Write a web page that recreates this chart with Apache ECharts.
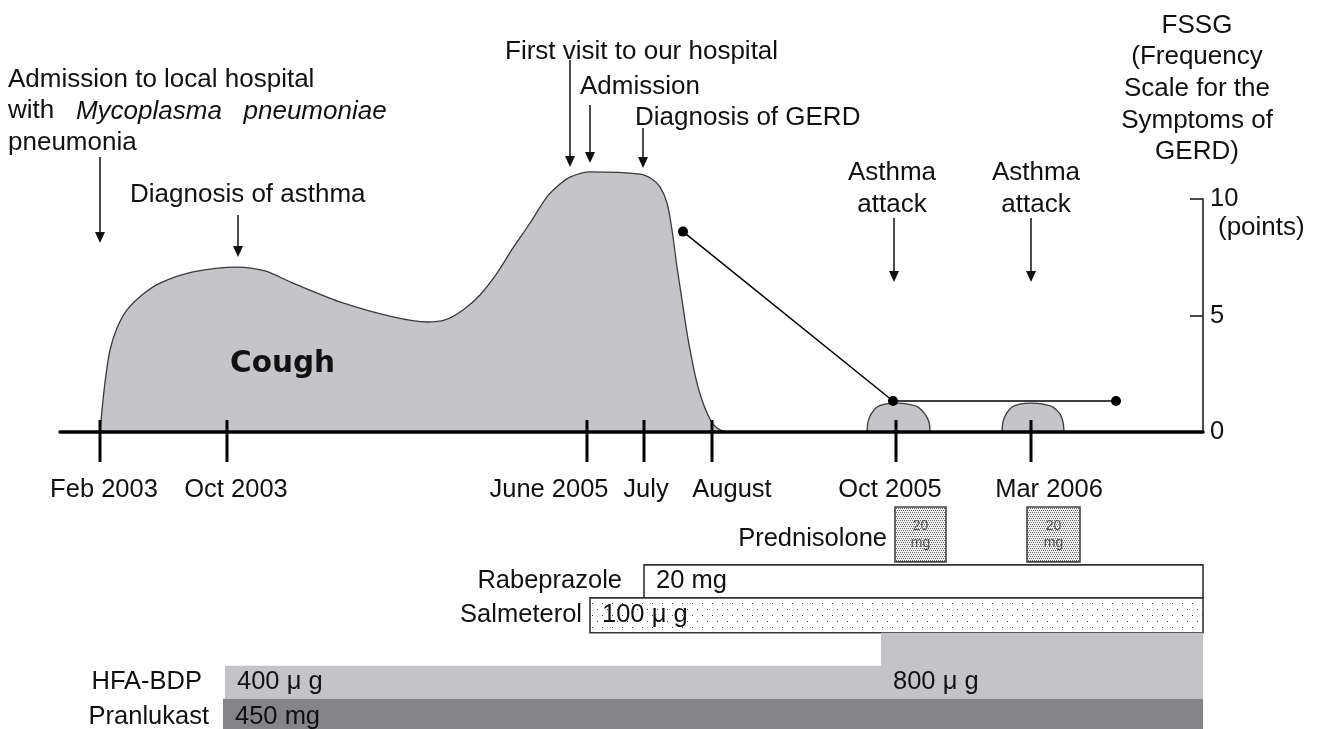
<!DOCTYPE html>
<html><head><meta charset="utf-8">
<script src="https://cdn.jsdelivr.net/npm/echarts@6/dist/echarts.min.js"></script>
<style>html,body{margin:0;padding:0;background:#fff}#c{width:1320px;height:729px}</style>
</head><body><div id="c"></div>
<script>
// ================= DATA =================
// x values are positions on the schematic (non-linear) timeline
const timelineTicks = ['Feb 2003', 'Oct 2003', 'June 2005', 'July', 'August', 'Oct 2005', 'Mar 2006'];
const timelinePos = [4.0, 16.7, 52.7, 58.4, 65.2, 83.6, 97.1];
const fssgTickValues = [0, 5, 10];

// cough intensity (schematic, drawn on the same vertical scale)
const coughMain = [
  [4.0, 0], [4.3, 1.37], [4.6, 2.45], [5.0, 3.52], [5.7, 4.46], [6.7, 5.24], [8.2, 5.88],
  [10.0, 6.39], [13.3, 6.87], [17.7, 7.08], [20.5, 6.91], [23.3, 6.39], [28.3, 5.54],
  [33.3, 4.94], [36.7, 4.72], [38.5, 4.81], [40.3, 5.24], [42.0, 5.88], [43.7, 6.82],
  [45.3, 7.90], [47.0, 8.97], [48.7, 10.09], [50.0, 10.64], [51.0, 10.94], [53.0, 11.16],
  [58.0, 11.07], [59.2, 10.86], [60.0, 10.52], [60.7, 9.83], [61.2, 8.67], [61.7, 7.08],
  [62.2, 5.67], [62.7, 4.25], [63.2, 3.09], [63.7, 2.10], [64.2, 1.37], [64.7, 0.82],
  [65.3, 0.34], [66.0, 0.09], [66.7, 0]
];
const coughAttackOct2005 = [
  [80.7, 0], [80.8, 0.43], [81.1, 0.77], [81.7, 1.07], [82.5, 1.20], [83.6, 1.24],
  [84.8, 1.20], [85.8, 1.07], [86.5, 0.77], [86.9, 0.43], [87.0, 0]
];
const coughAttackMar2006 = [
  [94.2, 0], [94.3, 0.43], [94.6, 0.77], [95.2, 1.07], [96.0, 1.20], [97.1, 1.24],
  [98.3, 1.20], [99.3, 1.07], [100.0, 0.77], [100.3, 0.43], [100.4, 0]
];

// FSSG score (points)
const fssgScores = [[62.3, 8.6], [83.3, 1.33], [105.6, 1.33]];

// events (arrows)
const eventLabels = [
  'Admission to local hospital\nwith   {i|Mycoplasma}   {i|pneumoniae}\npneumonia',
  'Diagnosis of asthma',
  'First visit to our hospital',
  'Admission',
  'Diagnosis of GERD',
  'Asthma\nattack',
  'Asthma\nattack'
];
const eventPos = [4.0, 17.8, 51.0, 53.0, 58.3, 83.4, 97.1];
const eventArrowFrom = [11.8, 9.31, 15.97, 14.03, 13.05, 9.18, 9.18];
const eventArrowTo = [8.11, 7.51, 11.37, 11.55, 11.33, 6.44, 6.44];

// treatments: [start, end, dose]
const drugNames = ['Prednisolone', 'Rabeprazole', 'Salmeterol', 'HFA-BDP', 'Pranlukast'];
const doseUnits = ['mg', 'mg', 'μ g', 'μ g', 'mg'];
const prednisolone = [[83.5, 88.6, 20], [96.7, 102.0, 20]];
const rabeprazole = [[58.4, 114.3, 20]];
const salmeterol = [[53.0, 114.3, 100]];
const hfaBdp = [[16.5, 82.1, 400], [82.1, 114.3, 800]];
const pranlukast = [[16.3, 114.3, 450]];
const drugCourses = [prednisolone, rabeprazole, salmeterol, hfaBdp, pranlukast];

// ================= STYLE / LAYOUT =================
const FONT = "'Liberation Sans', Arial, Helvetica, sans-serif";
const INK = '#111';

function makePattern(w, h, bg, dots, color) {
  const c = document.createElement('canvas');
  c.width = w; c.height = h;
  const g = c.getContext('2d');
  g.fillStyle = bg; g.fillRect(0, 0, w, h);
  g.fillStyle = color;
  dots.forEach(d => g.fillRect(d[0], d[1], 1, 1));
  return { image: c, repeat: 'repeat' };
}
const salPattern = makePattern(10, 12, '#ffffff', [[2, 3], [7, 9]], '#444');
const predPattern = makePattern(4, 4, '#f2f2f2', [[0, 0], [2, 0], [1, 2], [3, 2]], '#666');

const tickLabelNudge = [4, 9, -38, 2, 20, -6, 18];
const eventLabelLayout = [
  { dx: -92, dy: -93, align: 'left', va: 'top' },
  { dx: -108, dy: -20, align: 'left', va: 'middle' },
  { dx: -65, dy: -8, align: 'left', va: 'middle' },
  { dx: -10, dy: -18, align: 'left', va: 'middle' },
  { dx: -8, dy: -10, align: 'left', va: 'middle' },
  { dx: -2, dy: -61, align: 'center', va: 'top' },
  { dx: 5, dy: -61, align: 'center', va: 'top' }
];
const drugLayout = [
  { band: [0.24, 1.89], fill: predPattern, stroke: '#444', nameGap: 8, small: true },
  { band: [1.98, 2.97], fill: '#ffffff', stroke: '#333', nameGap: 22 },
  { band: [2.97, 4.02], fill: salPattern, stroke: '#333', nameGap: 8 },
  { base: 6.0, perDose: 404, fill: '#c4c3c8', stroke: null, nameGap: 23 },
  { band: [6.0, 7.1], fill: '#858489', stroke: null, nameGap: 14 }
];

const drugItems = [];
drugCourses.forEach((courses, r) => {
  courses.forEach((c, k) => drugItems.push([r, c[0], c[1], c[2], k === 0 ? 1 : 0]));
});

// ================= CHART =================
const chart = echarts.init(document.getElementById('c'), null, { width: 1320, height: 729 });

const coughLine = (data) => ({
  type: 'line', xAxisIndex: 0, yAxisIndex: 0, data: data, smooth: 0.3,
  symbol: 'none', clip: false, z: 2,
  lineStyle: { color: '#3a3a3a', width: 1.3 },
  areaStyle: { color: '#c5c4c9', opacity: 1 }
});

const option = {
  animation: false,
  backgroundColor: '#ffffff',
  textStyle: { fontFamily: FONT },
  grid: [
    { left: 60, right: 117, top: 199, bottom: 297, outerBoundsMode: 'none', containLabel: false },
    { left: 60, right: 117, top: 499, height: 233, outerBoundsMode: 'none', containLabel: false }
  ],
  xAxis: [
    { type: 'value', gridIndex: 0, min: 0, max: 114.3, z: 4,
      axisLine: { show: true, onZero: false, lineStyle: { color: '#000', width: 3.5 } },
      axisTick: { show: false }, axisLabel: { show: false }, splitLine: { show: false } },
    { type: 'value', gridIndex: 1, min: 0, max: 114.3, show: false, splitLine: { show: false } }
  ],
  yAxis: [
    { type: 'value', gridIndex: 0, position: 'right', min: 0, max: 10, interval: 5,
      axisLine: { show: true, onZero: false, lineStyle: { color: INK, width: 1.5 } },
      axisTick: { show: true, inside: true, length: 13, lineStyle: { color: INK, width: 1.5 } },
      axisLabel: { show: true, margin: 7, fontSize: 25.5, color: INK, fontFamily: FONT,
        padding: [0, 0, 10, 0],
        formatter: v => (fssgTickValues.indexOf(v) >= 0 ? String(v) : '') },
      splitLine: { show: false },
      name: 'FSSG\n(Frequency\nScale for the\nSymptoms of\nGERD)',
      nameLocation: 'end', nameGap: 31,
      nameTextStyle: { fontSize: 26, lineHeight: 31.7, color: INK, fontFamily: FONT,
        align: 'center', verticalAlign: 'bottom', padding: [0, 12, 0, 0] } },
    { type: 'value', gridIndex: 1, min: 0, max: 7, inverse: true, show: false, splitLine: { show: false } }
  ],
  graphic: [
    { type: 'text', x: 230, y: 364, z: 10,
      style: { text: 'Cough', font: "bold 29.5px 'DejaVu Sans', Verdana, sans-serif",
        fill: INK, align: 'left', verticalAlign: 'middle' } },
    { type: 'text', x: 1218, y: 228, z: 10,
      style: { text: '(points)', font: '26px ' + FONT, fill: INK, align: 'left', verticalAlign: 'middle' } }
  ],
  series: [
    Object.assign(coughLine(coughMain), { name: 'Cough' }),
    Object.assign(coughLine(coughAttackOct2005), { name: 'Cough (attack Oct 2005)' }),
    Object.assign(coughLine(coughAttackMar2006), { name: 'Cough (attack Mar 2006)' }),
    { name: 'FSSG', type: 'line', xAxisIndex: 0, yAxisIndex: 0, data: fssgScores,
      symbol: 'circle', symbolSize: 10, clip: false, z: 6,
      itemStyle: { color: '#000' }, lineStyle: { color: '#000', width: 1.5 } },
    { name: 'timeline', type: 'custom', xAxisIndex: 0, yAxisIndex: 0, clip: false, z: 5,
      data: timelinePos.map((p, i) => [p, i]),
      renderItem: (params, api) => {
        const i = params.dataIndex;
        const b = api.coord([api.value(0), 0]);
        return { type: 'group', children: [
          { type: 'line', shape: { x1: b[0], y1: b[1] - 12, x2: b[0], y2: b[1] + 30 },
            style: { stroke: '#000', lineWidth: 3 } },
          { type: 'text', x: b[0] + tickLabelNudge[i], y: b[1] + 58,
            style: { text: timelineTicks[i], font: '25.5px ' + FONT, fill: INK,
              align: 'center', verticalAlign: 'middle' } }
        ] };
      } },
    { name: 'events', type: 'custom', xAxisIndex: 0, yAxisIndex: 0, clip: false, z: 5,
      data: eventPos.map((p, i) => [p, eventArrowFrom[i], eventArrowTo[i]]),
      renderItem: (params, api) => {
        const i = params.dataIndex;
        const L = eventLabelLayout[i];
        const p1 = api.coord([api.value(0), api.value(1)]);
        const p2 = api.coord([api.value(0), api.value(2)]);
        return { type: 'group', children: [
          { type: 'line', shape: { x1: p1[0], y1: p1[1], x2: p2[0], y2: p2[1] - 8 },
            style: { stroke: INK, lineWidth: 1.5 } },
          { type: 'polygon', shape: { points: [[p2[0] - 5, p2[1] - 11], [p2[0] + 5, p2[1] - 11], [p2[0], p2[1]]] },
            style: { fill: INK } },
          { type: 'text', x: p1[0] + L.dx, y: p1[1] + L.dy,
            style: { text: eventLabels[i], font: '26px ' + FONT, fill: INK, lineHeight: 31.5,
              align: L.align, verticalAlign: L.va,
              rich: { i: { fontStyle: 'italic', fontSize: 26, fontFamily: FONT, lineHeight: 31.5, fill: INK } } } }
        ] };
      } },
    { name: 'treatment', type: 'custom', xAxisIndex: 1, yAxisIndex: 1, clip: false, z: 5,
      data: drugItems,
      renderItem: (params, api) => {
        const r = api.value(0), s = api.value(1), e = api.value(2), dose = api.value(3), first = api.value(4);
        const L = drugLayout[r];
        let yTop, yBot, rowMid;
        if (L.perDose) {
          yBot = L.base; yTop = L.base - dose / L.perDose; rowMid = L.base - 400 / L.perDose / 2;
        } else {
          yTop = L.band[0]; yBot = L.band[1]; rowMid = (yTop + yBot) / 2;
        }
        const a = api.coord([s, yTop]), b = api.coord([e, yBot]);
        const my = api.coord([s, rowMid])[1];
        const children = [
          { type: 'rect', shape: { x: a[0], y: a[1], width: b[0] - a[0], height: b[1] - a[1] },
            style: L.stroke ? { fill: L.fill, stroke: L.stroke, lineWidth: 1.6 } : { fill: L.fill } }
        ];
        if (L.small) {
          children.push({ type: 'text', x: (a[0] + b[0]) / 2, y: (a[1] + b[1]) / 2,
            style: { text: dose + '\n' + doseUnits[r], font: '14px ' + FONT, fill: '#555', lineHeight: 17,
              align: 'center', verticalAlign: 'middle' } });
        } else {
          children.push({ type: 'text', x: a[0] + 12, y: my,
            style: { text: dose + ' ' + doseUnits[r], font: '25.5px ' + FONT, fill: INK,
              align: 'left', verticalAlign: 'middle' } });
        }
        if (first) {
          children.push({ type: 'text', x: a[0] - L.nameGap, y: L.small ? my + 5 : my,
            style: { text: drugNames[r], font: '25.5px ' + FONT, fill: INK,
              align: 'right', verticalAlign: 'middle' } });
        }
        return { type: 'group', children: children };
      } }
  ]
};
chart.setOption(option);
</script>
</body></html>
